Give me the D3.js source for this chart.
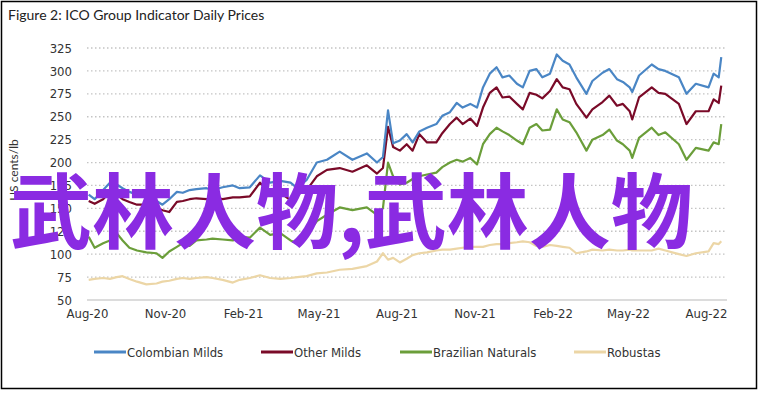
<!DOCTYPE html>
<html>
<head>
<meta charset="utf-8">
<script src="https://cdn.jsdelivr.net/npm/d3@7"></script>
<style>
  body { margin: 0; background: #fff; }
  text { font-family: "Liberation Sans Narrow", "DejaVu Sans Condensed", "Liberation Sans", sans-serif; }
</style>
</head>
<body>
<div id="chart"></div>
<script>
var dates = ["2020-08-03","2020-08-10","2020-08-20","2020-08-28","2020-09-05","2020-09-12","2020-09-20","2020-09-29",
  "2020-10-10","2020-10-22","2020-10-29","2020-11-06","2020-11-15","2020-11-22","2020-11-30","2020-12-08","2020-12-20",
  "2020-12-27","2021-01-08","2021-01-20","2021-01-28","2021-02-09","2021-02-21","2021-03-05","2021-03-17","2021-03-29",
  "2021-04-06","2021-04-17","2021-04-29","2021-05-11","2021-05-26","2021-06-10","2021-06-27","2021-07-09","2021-07-16",
  "2021-07-22","2021-07-28","2021-08-05","2021-08-13","2021-08-20","2021-08-28","2021-09-06","2021-09-17","2021-09-24",
  "2021-10-03","2021-10-11","2021-10-18","2021-10-27","2021-11-04","2021-11-11","2021-11-19","2021-11-27","2021-12-04",
  "2021-12-12","2021-12-21","2021-12-28","2022-01-05","2022-01-13","2022-01-20","2022-01-29","2022-02-06","2022-02-13",
  "2022-02-21","2022-03-01","2022-03-13","2022-03-20","2022-04-01","2022-04-09","2022-04-18","2022-04-25","2022-05-03",
  "2022-05-06","2022-05-14","2022-05-29","2022-06-06","2022-06-14","2022-06-30","2022-07-09","2022-07-20","2022-08-04",
  "2022-08-10","2022-08-16","2022-08-19"];

var colombianMilds = [165,160,170,178,176,172,168,165,162,158,154,160,168,167,170,171,172,170,173,175,172,173,186,178,
  180,178,172,181,200,203,212,203,210,200,206,257,221,224,231,222,234,238,242,251,255,265,260,264,260,282,297,304,293,
  295,286,282,300,302,293,297,318,311,307,293,275,289,298,302,291,288,282,277,295,307,302,300,293,275,286,282,297,293,315];

var otherMilds = [158,155,160,168,165,160,157,154,154,151,148,146,157,158,160,161,160,162,160,162,162,163,178,167,
  167,159,165,170,185,192,194,190,197,188,194,239,217,213,220,213,231,222,222,232,242,249,242,248,240,260,276,282,271,
  272,264,258,276,274,270,278,291,282,280,264,249,258,266,273,262,264,256,247,271,282,276,275,264,242,256,256,269,265,284];

var brazilianNaturals = [119,107,112,115,123,115,107,104,102,101,96,103,108,112,109,115,116,117,116,115,119,118,129,121,
  123,115,112,122,136,143,151,148,151,143,150,200,185,176,178,182,185,187,189,195,200,203,201,205,198,220,231,238,234,
  230,224,220,238,242,235,236,258,247,244,233,213,225,230,236,224,220,213,205,227,238,230,233,220,203,216,213,222,220,242];

var robustas = [72,73,74,73,75,76,73,70,67,68,70,71,73,74,73,74,75,74,72,69,72,74,77,74,
  73,74,75,76,79,80,83,84,87,92,101,94,96,91,95,99,101,102,104,105,105,106,107,108,108,108,110,111,111,
  112,113,114,113,109,108,110,109,108,107,101,103,105,104,105,104,104,105,104,104,104,106,104,100,98,101,103,112,111,114];

var seriesNames = ["Colombian Milds", "Other Milds", "Brazilian Naturals", "Robustas"];
var seriesColors = ["#4a86c5", "#7a0a28", "#6b9e3a", "#ecd6a6"];
var yTicks = [50,75,100,125,150,175,200,225,250,275,300,325];
var xTicks = ["2020-08-01","2020-11-01","2021-02-01","2021-05-01","2021-08-01","2021-11-01","2022-02-01","2022-05-01","2022-08-01"];

var W = 758, H = 393;
var margin = {top: 48, right: 31, bottom: 93, left: 87},
    width = 727 - margin.left,
    height = 300 - margin.top;

var parse = d3.timeParse("%Y-%m-%d");
var fmt = d3.timeFormat("%b-%y");

var svg = d3.select("#chart")
  .append("svg")
    .attr("width", W)
    .attr("height", H);

// frame
svg.append("rect")
  .attr("x", 1.5).attr("y", 1.5)
  .attr("width", W - 3).attr("height", H - 6)
  .attr("fill", "#fff")
  .attr("stroke", "#000").attr("stroke-width", 1.5);

svg.append("text")
  .attr("x", 8).attr("y", 20)
  .style("font-family", "Lato, 'Open Sans', sans-serif")
  .style("font-size", "14px")
  .attr("fill", "#222")
  .text("Figure 2: ICO Group Indicator Daily Prices");

var g = svg.append("g")
  .attr("transform", "translate(" + margin.left + "," + margin.top + ")");

var x = d3.scaleTime()
  .domain([parse("2020-08-01"), parse("2022-08-01")])
  .range([0, 706 - margin.left]);

var y = d3.scaleLinear()
  .domain([50, 325])
  .range([height, 0]);

// gridlines
g.append("g")
  .selectAll("line")
  .data(yTicks)
  .enter()
  .append("line")
    .attr("x1", 0).attr("x2", width)
    .attr("y1", function(d) { return y(d); })
    .attr("y2", function(d) { return y(d); })
    .attr("stroke", function(d) { return d == 50 ? "#d0d0d0" : "#c4c4c4"; })
    .attr("stroke-width", function(d) { return d == 50 ? 1.5 : 1.3; })
    .attr("stroke-dasharray", function(d) { return d == 50 ? null : "1.5,2.5"; });

var yAxis = g.append("g")
  .call(d3.axisLeft(y).tickValues(yTicks).tickSize(0).tickPadding(15));
yAxis.select(".domain").remove();
yAxis.selectAll("text").style("font-size", "13px").attr("fill", "#333");

var xAxis = g.append("g")
  .attr("transform", "translate(0," + height + ")")
  .call(d3.axisBottom(x).tickValues(xTicks.map(parse)).tickFormat(fmt).tickSize(0).tickPadding(9));
xAxis.select(".domain").remove();
xAxis.selectAll("text").style("font-size", "13px").attr("fill", "#333");

svg.append("text")
  .attr("transform", "translate(18,170) rotate(-90)")
  .attr("text-anchor", "middle")
  .style("font-family", "Lato, 'Open Sans', sans-serif")
  .style("font-size", "12px")
  .attr("fill", "#333")
  .text("US cents/lb");

var allSeries = [colombianMilds, otherMilds, brazilianNaturals, robustas];
var dateObjs = dates.map(parse);

var line = d3.line()
  .x(function(d) { return x(d[0]); })
  .y(function(d) { return y(d[1]); });

// draw robustas first, colombian last
[3, 2, 1, 0].forEach(function(i) {
  g.append("path")
    .datum(dateObjs.map(function(d, j) { return [d, allSeries[i][j]]; }))
    .attr("fill", "none")
    .attr("stroke", seriesColors[i])
    .attr("stroke-width", 2.2)
    .attr("stroke-linejoin", "round")
    .attr("d", line);
});

// legend
var legendX = [94, 261, 400, 574];
var legend = svg.append("g");
seriesNames.forEach(function(name, i) {
  legend.append("line")
    .attr("x1", legendX[i]).attr("x2", legendX[i] + 32)
    .attr("y1", 352).attr("y2", 352)
    .attr("stroke", seriesColors[i]).attr("stroke-width", 3);
  legend.append("text")
    .attr("x", legendX[i] + 33).attr("y", 352)
    .attr("dy", "0.35em")
    .style("font-size", "13px")
    .attr("fill", "#333")
    .text(name);
});

// overlay text
svg.append("text")
  .attr("x", 10).attr("y", 206)
  .attr("dominant-baseline", "central")
  .style("font-family", "'Noto Sans CJK SC', sans-serif")
  .style("font-weight", "bold")
  .style("font-size", "82px")
  .attr("fill", "#8a2be2")
  .text("武林人物,武林人物");
</script>
</body>
</html>
